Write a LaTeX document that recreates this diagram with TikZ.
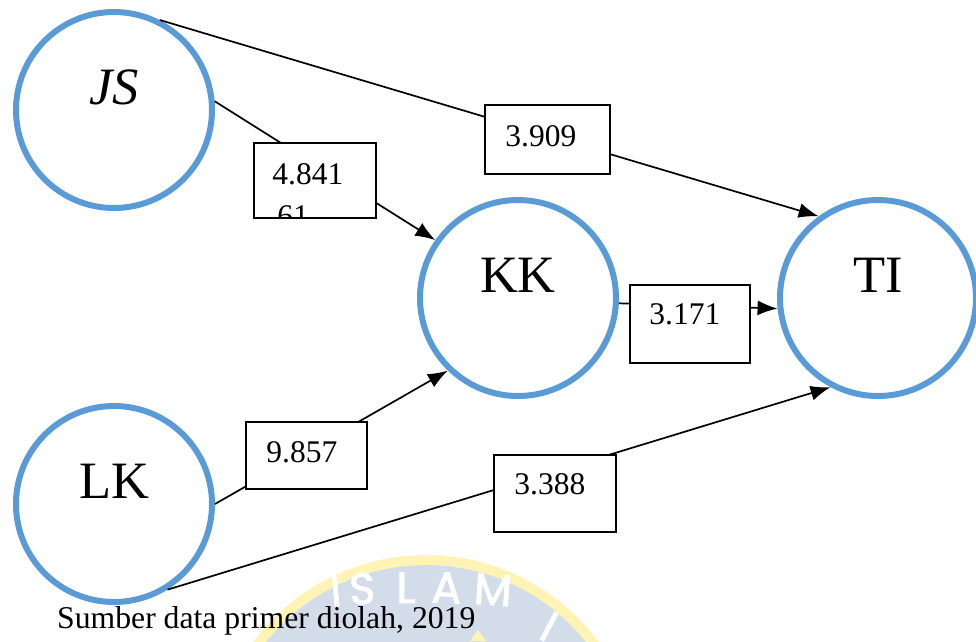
\documentclass[tikz,border=0pt]{standalone}
\usepackage{fontspec}
\setmainfont{Liberation Serif}
\newfontfamily\logofont[AutoFakeBold=2]{Poppins}
\usetikzlibrary{arrows.meta}

\definecolor{ringblue}{HTML}{5B9BD5}
\definecolor{wmfill}{HTML}{D3DDEA}
\definecolor{wmring}{HTML}{FFF3B5}

\begin{document}
\begin{tikzpicture}[x=1pt,y=-1pt,
  var/.style={circle, draw=ringblue, fill=white, line width=6pt,
    minimum size=196pt, inner sep=0pt,
    font=\fontsize{52.5}{60}\selectfont, text height=35pt, text depth=47pt},
  valbox/.style={draw=black, fill=white, line width=1.5pt, inner sep=0pt},
  valtext/.style={anchor=base west, inner sep=0pt,
    font=\fontsize{31.5}{36}\selectfont},
  link/.style={draw=black, line width=1.7pt,
    -{Latex[length=20pt,width=15pt]}},
  wmletter/.style={anchor=base, inner sep=0pt, text=white,
    font=\logofont\bfseries\fontsize{44}{50}\selectfont},
]
\useasboundingbox (0,0) rectangle (976,641);

% faint logo watermark at the bottom
\begin{scope}
  \clip (0,0) rectangle (976,641);
  \fill[wmfill] (426,770) circle[radius=210pt];
  \draw[wmring, line width=10pt] (426,770) circle[radius=210pt];
  \foreach \ch/\x/\y/\r in {I/337/606/5, S/363/604/3, L/406/603/0, A/446/603/-2, M/492/605/-4}
    \node[wmletter, rotate=\r, name=wm\ch] at (\x,\y) {\ch};
  \node[wmletter, rotate=-28, name=wmI2] at (542,640) {I};
  \fill[wmring] (470,641) -- (478,630) -- (486,641) -- cycle;
\end{scope}

% latent variables
\node[var] (JS) at (114,110) {\textit{JS}};
\node[var] (KK) at (518,298) {KK};
\node[var] (TI) at (878,298) {TI};
\node[var] (LK) at (114,504) {LK};

% paths
\draw[link] (JS.63) -- (TI.126);
\draw[link] (JS.5) -- (KK.145);
\draw[link] (LK.0) -- (KK.-134);
\draw[link] (LK.-58) -- (TI.-118);
\draw[link] (KK.-3) -- (TI.-174);

% t-value boxes
\node[valbox, minimum width=122pt, minimum height=75pt] (b1) at (315,180.5) {};
\node[valbox, minimum width=125pt, minimum height=69pt] (b2) at (547.5,139.5) {};
\node[valbox, minimum width=120pt, minimum height=78pt] (b3) at (690,324) {};
\node[valbox, minimum width=121pt, minimum height=67pt] (b4) at (306.5,455.5) {};
\node[valbox, minimum width=122pt, minimum height=77pt] (b5) at (555,493.5) {};

\node[valtext] (t1) at ([shift={(19,42)}]b1.north west) {4.841};
\begin{scope}
  \clip ([shift={(0,-1)}]b1.south west) rectangle (b1.north east);
  \node[valtext] (t1b) at ([shift={(24,84)}]b1.north west) {61};
\end{scope}
\node[valtext] (t2) at ([shift={(21,42)}]b2.north west) {3.909};
\node[valtext] (t3) at ([shift={(20,40)}]b3.north west) {3.171};
\node[valtext] (t4) at ([shift={(21,41)}]b4.north west) {9.857};
\node[valtext] (t5) at ([shift={(21,40)}]b5.north west) {3.388};

% source note
\node[valtext, font=\fontsize{31.7}{36}\selectfont] (src) at (57,628) {Sumber data primer diolah, 2019};
\end{tikzpicture}
\end{document}
